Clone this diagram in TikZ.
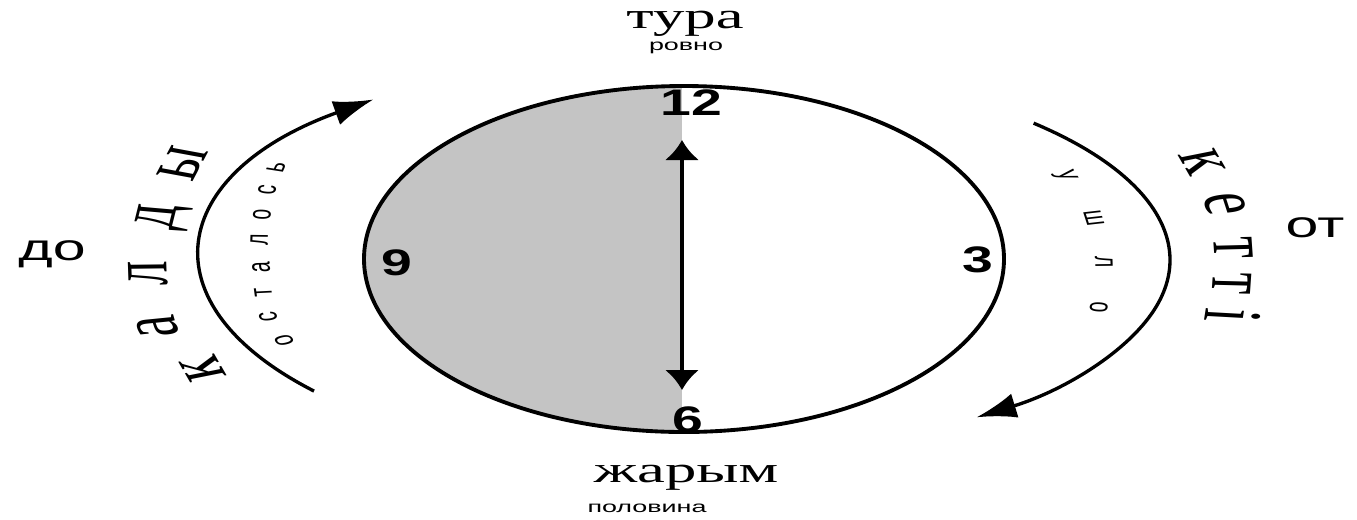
\documentclass[tikz,border=0pt]{standalone}
\usepackage{fontspec}
\setmainfont{Liberation Serif}
\setsansfont{Liberation Sans}
\usetikzlibrary{arrows.meta}
\tikzset{
  rim/.style         = {draw=black, line width=2.2pt},
  shade/.style       = {fill=black!23},
  hand/.style        = {{Latex[length=4mm,width=7mm]}-{Latex[length=4mm,width=7mm]}, line width=2.4pt},
  sweep/.style       = {-{Latex[length=8mm,width=5mm]}, line width=1.9pt},
  hour/.style        = {font=\sffamily\bfseries\fontsize{21}{21}\selectfont, xscale=1.5, anchor=base, inner sep=0pt},
  word/.style        = {font=\fontsize{21}{21}\selectfont, xscale=1.7, anchor=base, inner sep=0pt},
  gloss/.style       = {font=\sffamily\fontsize{9}{9}\selectfont, xscale=1.7, anchor=base, inner sep=0pt},
  side/.style        = {font=\sffamily\fontsize{21}{21}\selectfont, xscale=1.6, anchor=base, inner sep=0pt},
  bigletter/.style   = {font=\fontsize{28}{28}\selectfont, xscale=1.7, inner sep=0pt, text height=0.45em, text depth=0pt},
  smallletter/.style = {font=\sffamily\fontsize{11}{11}\selectfont, xscale=1.7, inner sep=0pt, text height=0.52em, text depth=0pt},
}

\begin{document}
\begin{tikzpicture}
  \useasboundingbox (0,0) rectangle (27.14,-10.38);

  % clock face, left half shaded
  \coordinate (hub) at (13.68,-5.18);
  \begin{scope}
    \clip (hub) ellipse [x radius=6.4, y radius=3.46];
    \fill[shade] (7,-1.5) rectangle (13.64,-9);
  \end{scope}
  \draw[rim] (hub) ellipse [x radius=6.4, y radius=3.46];

  \coordinate (noon) at (13.64,-2.8);
  \coordinate (half) at (13.64,-7.8);
  \draw[hand] (noon) -- (half);

  \node[hour] (h12) at (13.82,-2.3)  {12};
  \node[hour] (h9)  at (7.94,-5.5)   {9};
  \node[hour] (h3)  at (19.56,-5.44) {3};
  \node[hour] (h6)  at (13.76,-8.64) {6};

  \node[word]  (tura)  at (13.7,-0.56)  {тура};
  \node[gloss] (rovno) at (13.72,-1.0)  {ровно};
  \node[word]  (zharym) at (13.72,-9.64) {жарым};
  \node[gloss] (polov) at (12.94,-10.24) {половина};
  \node[side]  (do) at (1.04,-5.2)  {до};
  \node[side]  (ot) at (26.3,-4.74) {от};

  % sweeping arrows
  \coordinate (lhub) at (13.68,-5.16);
  \coordinate (rhub) at (13.68,-5.2);
  \draw[sweep] ([shift={(220:9.66 and 4.14)}]lhub) arc[start angle=220, end angle=130, x radius=9.66, y radius=4.14];
  \draw[sweep] ([shift={(44:9.72 and 3.94)}]rhub) arc[start angle=44, end angle=-53, x radius=9.72, y radius=3.94];

  % letters round the arcs
  \foreach \ch/\px/\py/\ang [count=\i] in {к/215/366/120, а/170/325/106, л/160/273/92, д/168/218/76, ы/194/166/62}
    \node[bigletter, rotate={atan2(sin(\ang),cos(\ang)/1.7)}] (kaldy\i) at (\px/50,-\py/50) {\ch};
  \foreach \ch/\px/\py/\ang [count=\i] in {о/285/340/125, с/269/317/110, т/264/292/98, а/262/267/93, л/260/240/88, о/263/215/82, с/268/190/75, ь/277/167/66}
    \node[smallletter, rotate={atan2(sin(\ang),cos(\ang)/1.7)}] (ostal\i) at (\px/50,-\py/50) {\ch};
  \foreach \ch/\px/\py/\ang [count=\i] in {к/1190/165/-60, е/1213/205/-72, т/1221/248/-86, т/1219/283/-94, і/1212/315/-99}
    \node[bigletter, rotate={atan2(sin(\ang),cos(\ang)/1.7)}] (ketti\i) at (\px/50,-\py/50) {\ch};
  \foreach \ch/\px/\py/\ang [count=\i] in {у/1067/175/-58, ш/1093/218/-72, л/1103/262/-88, о/1098/307/-100}
    \node[smallletter, rotate={atan2(sin(\ang),cos(\ang)/1.7)}] (ushlo\i) at (\px/50,-\py/50) {\ch};
\end{tikzpicture}
\end{document}
